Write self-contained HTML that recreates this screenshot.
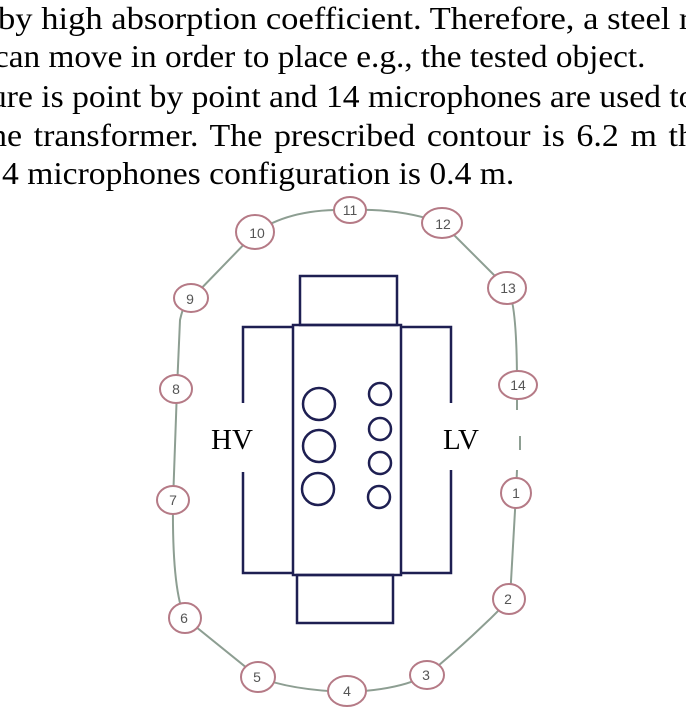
<!DOCTYPE html>
<html><head><meta charset="utf-8"><style>
html,body{margin:0;padding:0;background:#fff;}
body{width:686px;height:712px;overflow:hidden;position:relative;}
.t{position:absolute;left:0;white-space:nowrap;font-family:"Liberation Serif","Times New Roman",serif;font-size:32px;color:#000;line-height:1;transform-origin:0 0;}
svg{position:absolute;left:0;top:0;}
</style></head><body>
<div class="t" style="top:2px;left:-2px;transform:scaleX(1.08)">by high absorption coefficient. Therefore, a steel re</div>
<div class="t" style="top:40px;left:-6px;transform:scaleX(1.04)">can move in order to place e.g., the tested object.</div>
<div class="t" style="top:80px;left:-10px;transform:scaleX(1.05)">ure is point by point and 14 microphones are used to</div>
<div class="t" style="top:119px;left:-10px;word-spacing:3px;transform:scaleX(1.06)">he transformer. The prescribed contour is 6.2 m th</div>
<div class="t" style="top:157px;left:2px;transform:scaleX(1.05)">4 microphones configuration is 0.4 m.</div>
<svg width="686" height="712" viewBox="0 0 686 712">
<g fill="none" stroke="#8d9e92" stroke-width="2" stroke-linejoin="round">
<path d="M517,470 L516,493 L510,599 Q470,640 427,675 Q400,690 347,692 Q290,690 258,677 L185,618 Q172,590 173,502 L177,389 L180,320 Q185,298 192,298 L255,233 Q290,208 350,210 Q400,208 442,223 L507,288 Q517,300 517,385 L517,410"/>
<path d="M520,436 L520,450"/>
</g>
<g fill="#fff" stroke="#b57a86" stroke-width="2">
<ellipse cx="350" cy="210" rx="16" ry="13"/>
<ellipse cx="255" cy="232" rx="19" ry="17"/>
<ellipse cx="442" cy="223" rx="20" ry="15"/>
<ellipse cx="191" cy="298" rx="17" ry="14"/>
<ellipse cx="507" cy="288" rx="19" ry="16"/>
<ellipse cx="176" cy="389" rx="16" ry="14"/>
<ellipse cx="518" cy="385" rx="19" ry="14"/>
<ellipse cx="173" cy="500" rx="16" ry="14"/>
<ellipse cx="516" cy="493" rx="15" ry="15"/>
<ellipse cx="185" cy="618" rx="16" ry="15"/>
<ellipse cx="509" cy="599" rx="16" ry="15"/>
<ellipse cx="258" cy="677" rx="17" ry="15"/>
<ellipse cx="347" cy="691" rx="19" ry="15"/>
<ellipse cx="427" cy="675" rx="17" ry="14"/>
</g>
<g font-family="Liberation Sans, sans-serif" font-size="14" fill="#555" text-anchor="middle">
<text x="350" y="215">11</text><text x="257" y="238">10</text><text x="443" y="229">12</text>
<text x="190" y="304">9</text><text x="508" y="293">13</text><text x="176" y="394">8</text>
<text x="518" y="390">14</text><text x="173" y="505">7</text><text x="516" y="498">1</text>
<text x="184" y="623">6</text><text x="508" y="604">2</text><text x="257" y="682">5</text>
<text x="347" y="696">4</text><text x="426" y="680">3</text>
</g>
<g fill="none" stroke="#1e1f52" stroke-width="2.5">
<rect x="300" y="276" width="97" height="49"/>
<rect x="293" y="325" width="108" height="250"/>
<rect x="297" y="575" width="96" height="48"/>
<path d="M293,327 L243,327 L243,403"/>
<path d="M243,472 L243,573 L293,573"/>
<path d="M401,327 L451,327 L451,403"/>
<path d="M451,470 L451,573 L401,573"/>
<circle cx="319" cy="404" r="16"/><circle cx="319" cy="446" r="16"/><circle cx="318" cy="489" r="16"/>
<circle cx="380" cy="394" r="11"/><circle cx="380" cy="429" r="11"/><circle cx="380" cy="463" r="11"/><circle cx="379" cy="497" r="11"/>
</g>
<g font-family="Liberation Serif, serif" font-size="29" fill="#000">
<text x="211" y="449">HV</text><text x="443" y="449">LV</text>
</g>
</svg>
</body></html>
